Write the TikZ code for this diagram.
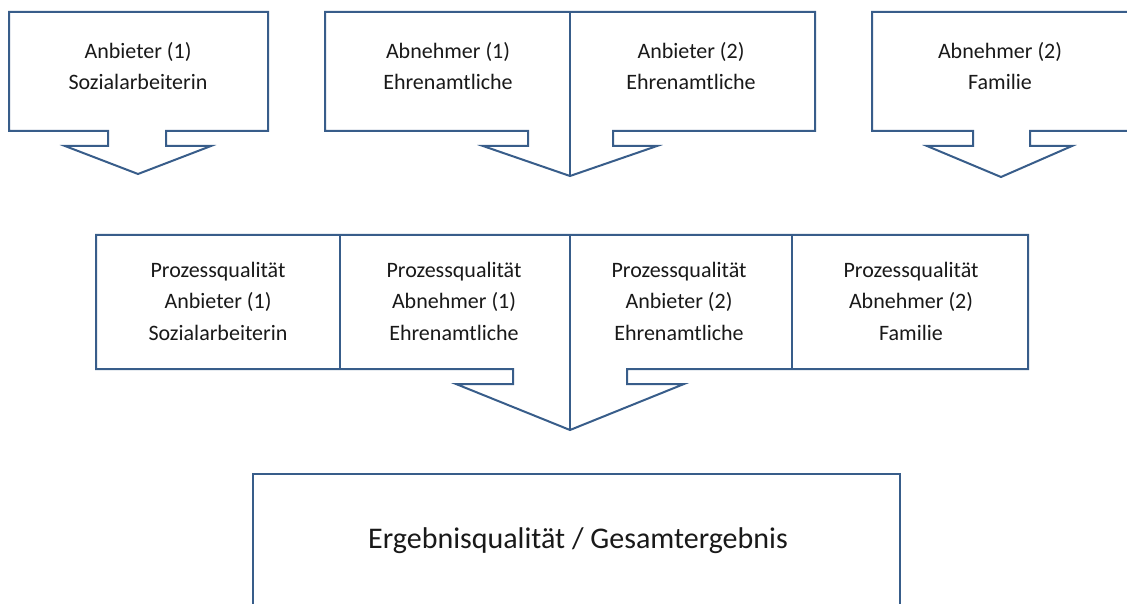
\documentclass[tikz,border=0pt]{standalone}
\usepackage{fontspec}
\setmainfont{Carlito}
\definecolor{edge}{RGB}{56,93,138}
\begin{document}
\begin{tikzpicture}[x=1pt,y=-1pt,
  outline/.style={draw=edge,line width=2pt,line join=miter,fill=white},
  divider/.style={draw=edge,line width=2pt},
  lbl/.style={align=center,inner sep=0pt,text=black!90,font=\fontsize{22}{31.5}\selectfont},
  biglbl/.style={align=center,inner sep=0pt,text=black!90,font=\fontsize{30}{36}\selectfont}]
\useasboundingbox (0,0) rectangle (1127,604);
\clip (0,0) rectangle (1127,604);

% top-left callout
\draw[outline] (9,12) -- (268,12) -- (268,131) -- (166,131) -- (166,146) -- (211,146)
  -- (138,174) -- (65,146) -- (108,146) -- (108,131) -- (9,131) -- cycle;
% top-middle double callout
\draw[outline] (325,12) -- (815,12) -- (815,131) -- (613,131) -- (613,146) -- (657,146)
  -- (570,176) -- (483,146) -- (528,146) -- (528,131) -- (325,131) -- cycle;
\draw[divider] (570,12) -- (570,176);
% top-right callout
\draw[outline] (872,12) -- (1135,12) -- (1135,131) -- (1030,131) -- (1030,146) -- (1072,146)
  -- (1001,177) -- (927,146) -- (973,146) -- (973,131) -- (872,131) -- cycle;

% middle row callout
\draw[outline] (96,235) -- (1028,235) -- (1028,369) -- (627,369) -- (627,384) -- (684,384)
  -- (570,430) -- (456,384) -- (513,384) -- (513,369) -- (96,369) -- cycle;
\draw[divider] (340,235) -- (340,369);
\draw[divider] (570,235) -- (570,430);
\draw[divider] (792,235) -- (792,369);

% bottom box
\draw[outline] (253,474) rectangle (900,620);

% texts
\node[lbl] (t1) at (138,66) {Anbieter (1)\\Sozialarbeiterin};
\node[lbl] (t2) at (448,66) {Abnehmer (1)\\Ehrenamtliche};
\node[lbl] (t3) at (691,66) {Anbieter (2)\\Ehrenamtliche};
\node[lbl] (t4) at (1000,66) {Abnehmer (2)\\Familie};

\node[lbl] (m1) at (218,301) {Prozessqualität\\Anbieter (1)\\Sozialarbeiterin};
\node[lbl] (m2) at (454,301) {Prozessqualität\\Abnehmer (1)\\Ehrenamtliche};
\node[lbl] (m3) at (679,301) {Prozessqualität\\Anbieter (2)\\Ehrenamtliche};
\node[lbl] (m4) at (911,301) {Prozessqualität\\Abnehmer (2)\\Familie};

\node[biglbl] (e) at (578,541) {Ergebnisqualität / Gesamtergebnis};
\end{tikzpicture}
\end{document}
